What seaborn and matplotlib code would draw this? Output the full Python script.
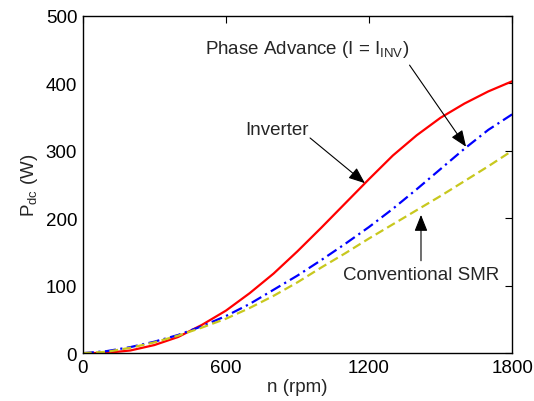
import numpy as np
import pandas as pd
import matplotlib
matplotlib.use("Agg")
import matplotlib.pyplot as plt
import seaborn as sns

n_rpm = [0, 100, 200, 300, 400, 500, 600, 700, 800, 900, 1000, 1100, 1200,
         1300, 1400, 1500, 1600, 1700, 1800]
p_inverter = [0, 0.5, 4, 12, 24, 42, 63, 89, 118, 151, 186, 222, 258,
              293, 323, 349, 370, 388, 403]
p_phase_adv = [0, 3, 9, 17, 27, 40, 55, 73, 94, 115, 138, 162, 187,
               214, 243, 273, 303, 331, 354]
p_conv_smr = [0, 2, 8, 16, 26, 38, 51, 67, 85, 105, 127, 148, 170,
              191, 212, 233, 255, 277, 300]
x_ticks = [0, 600, 1200, 1800]
y_ticks = [0, 100, 200, 300, 400, 500]

sns.set_theme(style="white")
plt.rcParams['font.family'] = ['Liberation Sans', 'DejaVu Sans']
plt.rcParams['mathtext.default'] = 'regular'

df = pd.DataFrame({
    "n": n_rpm * 3,
    "P": p_inverter + p_phase_adv + p_conv_smr,
    "series": (["Inverter"] * len(n_rpm) + ["Phase Advance"] * len(n_rpm)
               + ["Conventional SMR"] * len(n_rpm)),
})

fig = plt.figure(figsize=(5.34, 4.02), dpi=100)
ax = fig.add_axes([0.155, 0.119, 0.804, 0.839])

styles = {
    "Inverter": dict(color="#ff0000", linestyle="-"),
    "Phase Advance": dict(color="#0000ff", linestyle=(0, (5, 2, 1, 2))),
    "Conventional SMR": dict(color="#c8c81e", linestyle=(0, (4, 2))),
}
for name, st in styles.items():
    sub = df[df["series"] == name]
    sns.lineplot(data=sub, x="n", y="P", ax=ax, color=st["color"],
                 linestyle=st["linestyle"], linewidth=1.6, legend=False,
                 estimator=None)

ax.set_xlim(0, 1800)
ax.set_ylim(0, 500)
ax.set_xticks(x_ticks)
ax.set_yticks(y_ticks)
ax.tick_params(direction="in", length=5, width=0.8, top=True, right=True,
               labelsize=13.5, colors="black", pad=4)
for s in ax.spines.values():
    s.set_visible(True)
    s.set_color("black")
    s.set_linewidth(1.0)
ax.set_xlabel("n (rpm)", fontsize=13.5, labelpad=2)
ax.set_ylabel("P$_{dc}$ (W)", fontsize=13.5, labelpad=4)

arrow = dict(arrowstyle="-|>,head_length=0.5,head_width=0.2", color="black",
             lw=0.8, mutation_scale=20, shrinkA=0, shrinkB=0)

ax.text(512, 445, "Phase Advance (I = I$_{INV}$)", fontsize=13.5,
        ha="left", va="baseline")
ax.annotate("", xy=(1607, 306), xytext=(1370, 427), arrowprops=arrow)

ax.text(680, 325, "Inverter", fontsize=13.5, ha="left", va="baseline")
ax.annotate("", xy=(1183, 252), xytext=(953, 319), arrowprops=arrow)

ax.text(1091, 110, "Conventional SMR", fontsize=13.5, ha="left", va="baseline")
ax.annotate("", xy=(1418, 205), xytext=(1418, 137), arrowprops=arrow)

fig.savefig("out.png", dpi=100)
